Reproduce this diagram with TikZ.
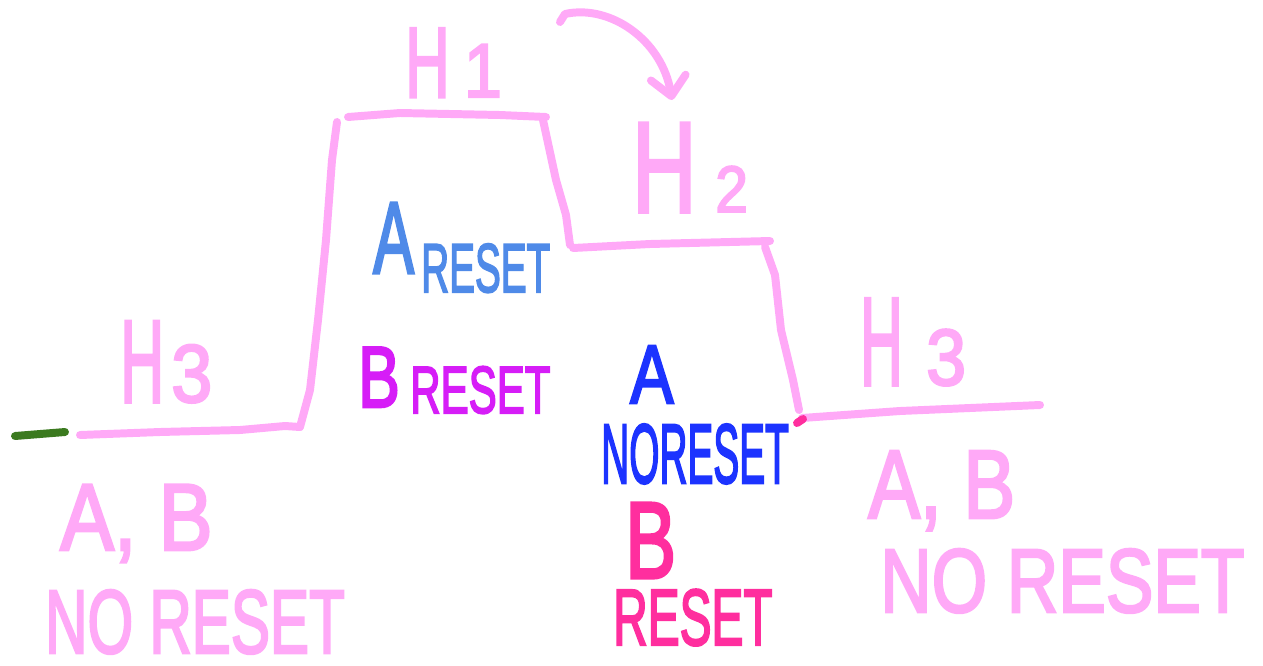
\documentclass[tikz,border=0pt]{standalone}
\usepackage{fontspec}
\usepackage{graphicx}
\setmainfont{Liberation Sans}
\newfontfamily\markerfont[FakeBold=3]{Liberation Sans}
\usetikzlibrary{arrows.meta}

\definecolor{PenPink}{HTML}{FFA9F7}
\definecolor{SkyBlue}{HTML}{4F8AE8}
\definecolor{Violet}{HTML}{D61DF7}
\definecolor{RoyalBlue}{HTML}{1C33FF}
\definecolor{HotPink}{HTML}{FF2E9E}
\definecolor{Moss}{HTML}{3B7A1F}

% squeezed hand lettering: x-squeeze, size in pt, text
\newcommand{\Pen}[3]{\scalebox{#1}[1]{\fontsize{#2}{#2}\markerfont #3}}
% H with its level number
\newcommand{\Hlab}[5]{\Pen{#1}{#2}{H}\hspace{#3}\Pen{0.9}{#4}{#5}}

\begin{document}
\begin{tikzpicture}
[
x=0.03cm, y=-0.03cm,
Stroke/.style={draw=PenPink, line width=6.8pt, line cap=round, line join=round},
Tick/.style={draw=Moss, line width=6.8pt, line cap=round},
Dot/.style={draw=HotPink, line width=6.8pt, line cap=round},
HopArrow/.style={-{Straight Barb[length=16pt,width=30pt,round]}},
Label/.style={inner sep=0pt, anchor=base west},
]
\useasboundingbox (0,0) rectangle (1263,665);

% levels
\draw[Tick] (15,436) -- (65,432);
\draw[Stroke] (80,435) -- (160,432) -- (240,430) -- (285,426) -- (300,427);
\draw[Stroke] (300,427) -- (310,390) -- (318,320) -- (326,240) -- (332,160) -- (337,122);

\draw[Stroke] (348,117) -- (400,113) -- (500,115) -- (546,117);
\draw[Stroke] (543,120) -- (556,180) -- (566,215) -- (570,245);

\draw[Stroke] (573,248) -- (650,244) -- (770,241);
\draw[Stroke] (765,247) -- (775,275) -- (781,330) -- (793,380) -- (799,410);

\draw[Stroke] (802,418) -- (900,411) -- (1040,405);
\draw[Dot] (797,423) -- (803,419);

\draw[Stroke, HopArrow] (560,22) -- (565,14) .. controls (610,4) and (662,40) .. (672,100);

% level names
\node[Label, PenPink] (h1) at (405,97) {\Hlab{0.62}{85}{12pt}{65}{1}};
\node[Label, PenPink] (h2) at (632,212) {\Hlab{0.69}{110}{16pt}{56}{2}};
\node[Label, PenPink] (h3left) at (120,402) {\Hlab{0.52}{100}{6pt}{70}{3}};
\node[Label, PenPink] (h3right) at (860,385) {\Hlab{0.47}{107}{20pt}{68}{3}};

% what happens on each level
\node[Label, SkyBlue] (aresetA) at (373,273) {\Pen{0.6}{87}{A}};
\node[Label, SkyBlue] (aresetTxt) at (421,292) {\Pen{0.56}{59}{RESET}};

\node[Label, Violet] (bresetB) at (358,407) {\Pen{0.72}{74}{B}};
\node[Label, Violet] (bresetTxt) at (410,413) {\Pen{0.63}{57}{RESET}};

\node[Label, RoyalBlue] (anoresetA) at (630,403) {\Pen{0.78}{71}{A}};
\node[Label, RoyalBlue] (anoresetTxt) at (601,483) {\Pen{0.46}{72}{NORESET}};

\node[Label, HotPink] (bresetTwoB) at (625,578) {\Pen{0.7}{93}{B}};
\node[Label, HotPink] (bresetTwoTxt) at (613,645) {\Pen{0.6}{68}{RESET}};

\node[Label, PenPink] (abLeft) at (60,550) {\Pen{0.85}{81}{A, B}};
\node[Label, PenPink] (noresetLeft) at (45,653) {\Pen{0.65}{77}{NO RESET}};

\node[Label, PenPink] (abRight) at (868,518) {\Pen{0.8}{83}{A, B}};
\node[Label, PenPink] (noresetRight) at (880,612) {\Pen{0.79}{77}{NO RESET}};

\end{tikzpicture}
\end{document}
